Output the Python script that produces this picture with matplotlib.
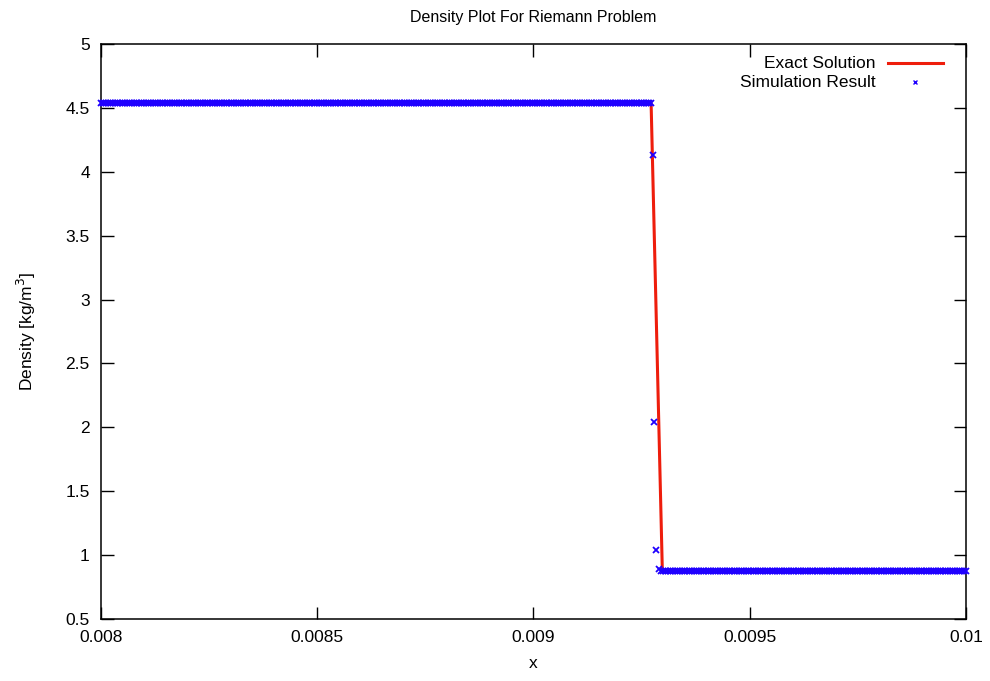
import matplotlib
matplotlib.use("Agg")
import matplotlib.pyplot as plt
from matplotlib.lines import Line2D
import numpy as np

plt.rcParams['font.family'] = ['Liberation Sans', 'DejaVu Sans']

# exact solution: left state, shock, right state
exact_x = [0.008, 0.009272, 0.009298, 0.01]
exact_rho = [4.54, 4.54, 0.875, 0.875]

# simulation: constant states on either side of the shock
rho_left = 4.54
rho_right = 0.875
cell_dx = 4e-6
x_left_end = 0.009274
x_right_start = 0.009295
# cells inside the shock
shock_x = [0.0092763, 0.0092786, 0.0092832, 0.0092902]
shock_rho = [4.13, 2.04, 1.04, 0.89]

left_x = np.arange(0.008, x_left_end + 1e-9, cell_dx)
right_x = np.arange(x_right_start, 0.01 + 1e-9, cell_dx)
sim_x = np.concatenate([left_x, shock_x, right_x])
sim_rho = np.concatenate([np.full(len(left_x), rho_left), shock_rho,
                          np.full(len(right_x), rho_right)])

red = "#ee1d0c"
blue = "#1f00ff"

fig = plt.figure(figsize=(9.9, 6.81), dpi=100)
ax = fig.add_axes([0.102, 0.091, 0.8737, 0.8443])

ax.plot(exact_x, exact_rho, color=red, lw=2.2, zorder=2)
ax.plot(sim_x, sim_rho, ls="none", marker="x", ms=4.2, mew=1.3,
        color=blue, zorder=3, clip_on=False)

ax.set_xlim(0.008, 0.01)
ax.set_ylim(0.5, 5)
ax.set_xticks([0.008, 0.0085, 0.009, 0.0095, 0.01])
ax.set_xticklabels(["0.008", "0.0085", "0.009", "0.0095", "0.01"])
ax.set_yticks(np.arange(0.5, 5.01, 0.5))
ax.set_yticklabels(["0.5", "1", "1.5", "2", "2.5", "3", "3.5", "4", "4.5", "5"])
ax.tick_params(direction="in", length=9, width=1, labelsize=12.5,
               top=True, right=True, pad=8)
for s in ax.spines.values():
    s.set_linewidth(1.1)

ax.set_title("Density Plot For Riemann Problem", fontsize=11.5, pad=16)
ax.set_xlabel("x", fontsize=12.5, labelpad=8)
ax.set_ylabel("Density [kg/m$^3$]", fontsize=12.5, labelpad=20)

# key, gnuplot style: right-aligned text followed by sample
ax.text(0.896, 0.967, "Exact Solution", transform=ax.transAxes,
        ha="right", va="center", fontsize=12.5)
ax.add_line(Line2D([0.910, 0.973], [0.967, 0.967], transform=ax.transAxes,
                   color=red, lw=2.2))
ax.text(0.896, 0.934, "Simulation Result", transform=ax.transAxes,
        ha="right", va="center", fontsize=12.5)
ax.add_line(Line2D([0.941], [0.934], transform=ax.transAxes, ls="none",
                   marker="x", ms=3.5, mew=1.0, color=blue))

fig.savefig("out.png", dpi=100, facecolor="white")
